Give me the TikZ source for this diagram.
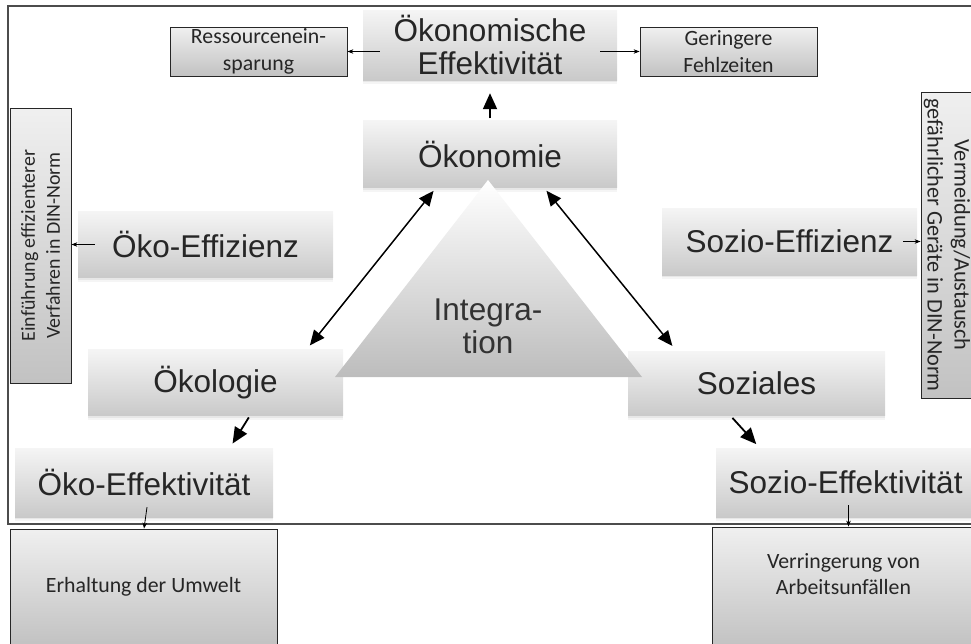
\documentclass[tikz,border=0pt]{standalone}
\usepackage{fontspec}
\setmainfont{Liberation Sans}
\newfontfamily\calibri{Carlito}
\usetikzlibrary{arrows.meta,calc,shadows}

\tikzset{
  softbox/.style={top color=gray!8, bottom color=gray!42, inner sep=0pt, align=center,
    text=black!85, font=\fontsize{31.5}{33}\selectfont,
    drop shadow={shadow xshift=0pt, shadow yshift=-2pt, opacity=.12},
    drop shadow={shadow xshift=0pt, shadow yshift=-4pt, opacity=.08}},
  notebox/.style={draw=black!85, line width=0.8pt, top color=gray!12, bottom color=gray!48,
    inner sep=0pt, align=center, text=black!85, font=\calibri\fontsize{21.8}{26.5}\selectfont},
  bigarrow/.style={line width=1.8pt, -{Triangle[length=16pt,width=14pt]}},
  twoway/.style={line width=1.5pt, {Triangle[length=15pt,width=13pt]}-{Triangle[length=15pt,width=13pt]}},
  smallarrow/.style={line width=0.8pt, -{Stealth[length=6pt,width=4.5pt]}},
}

\begin{document}
\begin{tikzpicture}[x=1pt, y=-1pt]
  \clip (0,0) rectangle (971,643);
  % frame
  \draw[black!70, line width=1.2pt] (975,6) -- (8,6) -- (8,524) -- (975,524);
  % top row
  \node[softbox, minimum width=254pt, minimum height=70pt] (oeff) at (490,45) {Ökonomische\\Effektivität};
  \node[notebox, minimum width=177pt, minimum height=49pt] (res) at (258.5,51.5) {Ressourcenein-\\sparung};
  \node[notebox, minimum width=177pt, minimum height=49pt] (fehl) at (728.5,51.5) {Geringere\\Fehlzeiten};
  % pillars
  \node[softbox, minimum width=254pt, minimum height=67pt] (oek) at (490,154) {Ökonomie};
  \node[softbox, minimum width=255pt, minimum height=66pt] (oekol) at (215.5,382.5) {Ökologie};
  \node[softbox, minimum width=257pt, minimum height=64pt] (soz) at (756.5,383.5) {Soziales};
  % efficiency
  \node[softbox, minimum width=255pt, minimum height=66pt] (oekoeffz) at (205.5,244.5) {Öko-Effizienz};
  \node[softbox, minimum width=255pt, minimum height=67pt] (soeffz) at (789.5,241.5) {Sozio-Effizienz};
  \node[notebox, rotate=90, minimum width=275pt, minimum height=61pt,
    font=\calibri\fontsize{19.9}{25}\selectfont] (leftv) at (40.5,245.5) {Einführung effizienterer\\Verfahren in DIN-Norm};
  \node[notebox, rotate=-90, minimum width=306pt, minimum height=52pt,
    font=\calibri\fontsize{22.3}{27}\selectfont] (rightv) at (947,245) {Vermeidung/Austausch\\gefährlicher Geräte in DIN-Norm};
  % effectiveness
  \node[softbox, minimum width=258pt, minimum height=69pt] (oekoeff) at (144,482.5) {Öko-Effektivität};
  \node[softbox, minimum width=259pt, minimum height=69pt] (soeff) at (845.5,482.5) {Sozio-Effektivität};
  \node[notebox, minimum width=267pt, minimum height=116pt] (erh) at (143.5,587) {Erhaltung der Umwelt};
  \node[notebox, minimum width=263pt, minimum height=120pt] (verr) at (843.5,587) {Verringerung von\\Arbeitsunfällen\\~};
  % integration triangle
  \shade[top color=white, bottom color=gray!52] (488,180) -- (642,377) -- (335,377) -- cycle;
  \node[align=center, text=black!80, font=\fontsize{31.5}{33}\selectfont] (integ) at (488,326) {Integra-\\tion};
  % connectors
  \draw[bigarrow, shorten <=2pt, shorten >=13pt] (oek.north) -- (oeff.south);
  \draw[twoway, shorten <=4pt, shorten >=5pt] (oek.212.7) -- (oekol.20);
  \draw[twoway, shorten <=4pt, shorten >=7pt] (oek.328.3) -- (soz.158.85);
  \draw[bigarrow, shorten <=2pt, shorten >=5pt] (oekol.316.7) -- (oekoeff.22.8);
  \draw[bigarrow, shorten <=3pt, shorten >=5pt] (soz.231.3) -- (soeff.158.5);
  \draw[smallarrow] ($(oeff.west |- res.east)+(17,0)$) -- (res.east);
  \draw[smallarrow] ($(oeff.east |- fehl.west)+(-17,0)$) -- (fehl.west);
  \draw[smallarrow] ($(oekoeffz.west)+(17,0)$) -- (oekoeffz.west -| leftv.south);
  \draw[smallarrow] ($(soeffz.east)+(-14,0)$) -- (soeffz.east -| rightv.south);
  \draw[smallarrow] ($(oekoeff.south)+(3,-10)$) -- (oekoeff.south |- erh.north);
  \draw[smallarrow] ($(soeff.south)+(3,-12)$) -- ($(soeff.south |- verr.north)+(3,0)$);
\end{tikzpicture}
\end{document}
